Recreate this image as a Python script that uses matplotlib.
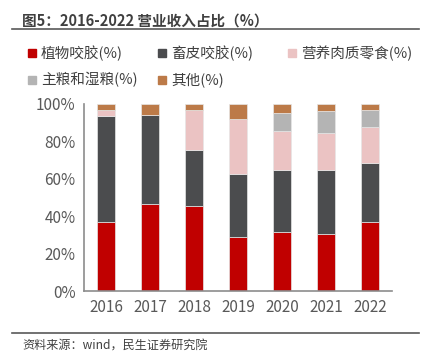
import numpy as np
import matplotlib
matplotlib.use('Agg')
import matplotlib.pyplot as plt
from matplotlib.patches import Rectangle
from matplotlib.lines import Line2D
from matplotlib.ticker import FuncFormatter

plt.rcParams['font.family'] = ['Noto Sans CJK SC', 'DejaVu Sans']

years = ['2016', '2017', '2018', '2019', '2020', '2021', '2022']
series_names = ['植物咬胶(%)', '畜皮咬胶(%)', '营养肉质零食(%)', '主粮和湿粮(%)', '其他(%)']
plant_chew = [37.1, 46.4, 45.6, 29.1, 31.4, 30.7, 37.1]
hide_chew = [56.7, 47.9, 29.9, 33.2, 33.3, 33.8, 31.3]
meat_snack = [3.0, 0.0, 21.3, 29.9, 21.1, 20.0, 19.3]
staple_food = [0.0, 0.0, 0.0, 0.0, 9.4, 11.8, 9.3]
other = [3.2, 5.7, 3.2, 7.8, 4.8, 3.7, 3.0]

colors = ['#C00000', '#4B4C4E', '#EBC3C3', '#B4B4B4', '#BC7A48']

W, H = 425, 360
fig = plt.figure(figsize=(W / 100, H / 100), dpi=100)


def fx(px):
    return px / W


def fy(py):
    return 1 - py / H


ax = fig.add_axes([fx(84), fy(291), fx(392) - fx(84), fy(104) - fy(291)])

x = np.arange(len(years))
bottom = np.zeros(len(years))
for vals, c, name in zip([plant_chew, hide_chew, meat_snack, staple_food, other], colors, series_names):
    vals = np.array(vals)
    ax.bar(x, vals, width=0.43, bottom=bottom, color=c, edgecolor='#e6e6e6',
           linewidth=0.5, label=name)
    bottom += vals

ax.set_xlim(-0.5, 6.5)
ax.set_ylim(0, 100)
ax.set_yticks(np.arange(0, 101, 20))
ax.yaxis.set_major_formatter(FuncFormatter(lambda v, p: f'{v:.0f}%'))
ax.set_xticks(x)
ax.set_xticklabels(years)
ax.tick_params(length=0, labelsize=11, colors='#595959', pad=6)
for s in ['top', 'right']:
    ax.spines[s].set_visible(False)
for s in ['left', 'bottom']:
    ax.spines[s].set_color('#8c8c8c')
    ax.spines[s].set_linewidth(1.2)

# title and rules
fig.text(fx(22), fy(21), '图5：2016-2022 营业收入占比（%）', fontsize=10.5,
         fontweight='bold', color='#404040', va='center', ha='left')
fig.add_artist(Line2D([fx(12), fx(419)], [fy(29), fy(29)], color='#595959', lw=1.2))
fig.add_artist(Line2D([fx(12), fx(419)], [fy(333), fy(333)], color='#595959', lw=1.2))
fig.text(fx(22), fy(346), '资料来源：wind，民生证券研究院', fontsize=8.7,
         color='#404040', va='center', ha='left')

# legend
legend_pos = [(28, 53), (158, 53), (288, 53), (28, 80), (158, 80)]
for (px, py), c, name in zip(legend_pos, colors, series_names):
    fig.add_artist(Rectangle((fx(px), fy(py + 4)), fx(8), fy(0) - fy(8),
                             transform=fig.transFigure, color=c))
    fig.text(fx(px + 13), fy(py), name, fontsize=10.5, color='#404040',
             va='center', ha='left')

fig.savefig('out.png', dpi=100)
